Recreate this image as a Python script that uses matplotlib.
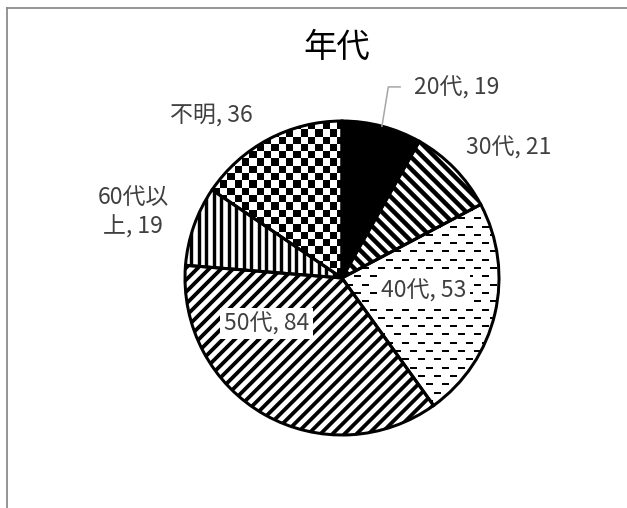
import numpy as np
import matplotlib.pyplot as plt
from matplotlib.collections import LineCollection
from matplotlib.lines import Line2D

plt.rcParams['font.family'] = ['Noto Sans CJK JP', 'DejaVu Sans']

# data
labels = ['20代', '30代', '40代', '50代', '60代以上', '不明']
values = [19, 21, 53, 84, 19, 36]
label_text = ['20代, 19', '30代, 21', '40代, 53', '50代, 84', '60代以\n上, 19', '不明, 36']
title = '年代'

W, H, DPI = 627, 508, 100
cx, cy, R = 342, 278, 157  # pie centre / radius in pixels (from top)
px = 1 / R  # one pixel in data units
lw_px = 72 / DPI  # points per pixel

fig = plt.figure(figsize=(W / DPI, H / DPI), dpi=DPI)
ax = fig.add_axes([0, 0, 1, 1])
ax.axis('off')

# chart frame (top + left edge visible)
fig.add_artist(Line2D([7 / W, 1], [1 - 8 / H] * 2, color='#8c8c8c', lw=1.3))
fig.add_artist(Line2D([7 / W] * 2, [0, 1 - 8 / H], color='#8c8c8c', lw=1.3))

faces = ['black', 'white', 'white', 'white', 'white', 'white']
wedges, _ = ax.pie(values, startangle=90, counterclock=False, radius=1,
                   colors=faces, wedgeprops=dict(linewidth=0, zorder=1))
outline, _ = ax.pie(values, startangle=90, counterclock=False, radius=1,
                    wedgeprops=dict(fill=False, edgecolor='black',
                                    linewidth=3 * lw_px, zorder=4))
ax.set_xlim(-cx / R, (W - cx) / R)
ax.set_ylim(-(H - cy) / R, cy / R)
ax.set_aspect('auto')


def add_lines(segs, wedge, width):
    lc = LineCollection(segs, colors='black', linewidths=width * lw_px, zorder=2,
                        capstyle='butt')
    ax.add_collection(lc)
    lc.set_clip_path(wedge)


def diag(period, sign):
    step = period * px * np.sqrt(2)
    segs = []
    for c in np.arange(-3, 3, step):
        xs = np.array([-1.5, 1.5])
        segs.append(np.column_stack([xs, sign * xs + c]))
    return segs


# 30代: wide downward diagonal
add_lines(diag(8.5, -1), wedges[1], 4.5)

# 40代: dashed horizontal
segs = []
row = 0
for y in np.arange(-1.1, 1.1, 8.3 * px):
    off = (row % 2) * 8 * px
    for x in np.arange(-1.2 + off, 1.2, 16 * px):
        segs.append([(x, y), (x + 7 * px, y)])
    row += 1
add_lines(segs, wedges[2], 2)

# 50代: wide upward diagonal
add_lines(diag(8.5, 1), wedges[3], 3.8)

# 60代以上: dark vertical
segs = [[(x, -1.1), (x, 1.1)] for x in np.arange(-1.2, 1.2, 7.5 * px)]
add_lines(segs, wedges[4], 3.4)

# 不明: checkerboard
sq = 7.3 * px
n = int(2.2 / sq) + 1
checker = (np.add.outer(np.arange(n), np.arange(n)) % 2).astype(float)
im = ax.imshow(checker, cmap='gray', extent=[-1.1, -1.1 + n * sq, -1.1, -1.1 + n * sq],
               interpolation='nearest', zorder=2, aspect='auto')
im.set_clip_path(wedges[5])

# labels
txt_col = '#404040'
pos = [(0.73, 1.21), (1.06, 0.83), (0.52, -0.08), (-0.48, -0.29), (-1.33, 0.42), (-0.83, 1.04)]
for i, (t, (x, y)) in enumerate(zip(label_text, pos)):
    box = None
    if i in (2, 3):
        box = dict(facecolor='white', edgecolor='none', pad=3)
    ax.text(x, y, t, ha='center', va='center', fontsize=16.5, color=txt_col,
            zorder=5, bbox=box, linespacing=1.35)

# leader line for 20代
mid = np.deg2rad(90 - values[0] / sum(values) * 180)
ax.plot([0.37, 0.295, np.cos(mid)], [1.217, 1.217, np.sin(mid)],
        color='#a6a6a6', lw=1.1, zorder=5)

fig.text(337 / W, 1 - 47 / H, title, ha='center', va='center', fontsize=24, color='black')

fig.savefig('out.png', dpi=DPI)
